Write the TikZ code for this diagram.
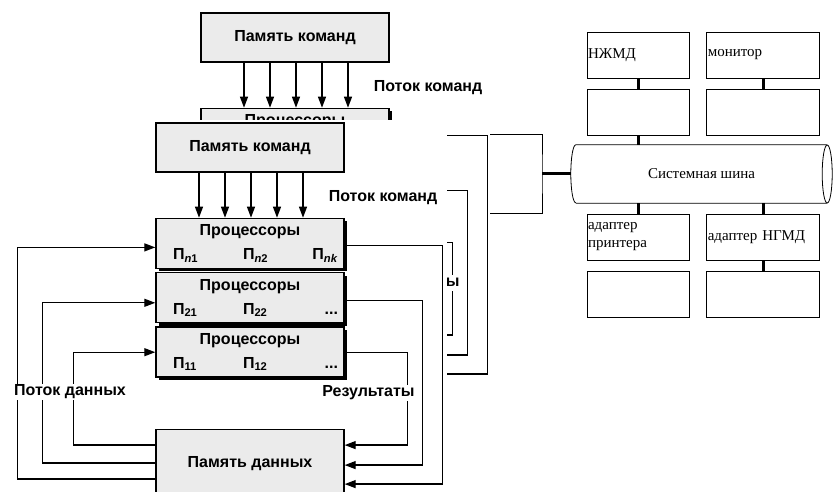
\documentclass[tikz,border=0pt]{standalone}
\usepackage{fontspec}
\setmainfont{Liberation Sans}
\newfontfamily\busfont{Liberation Serif}
\usetikzlibrary{arrows.meta,positioning,shadows}

\newcommand{\scanfnt}{\bfseries\fontsize{16}{19}\selectfont}
\newcommand{\devfnt}{\busfont\fontsize{15}{18}\selectfont}
% one row of processor names under the box title
\newcommand{\prow}[3]{\makebox[176pt][r]{\makebox[165pt][l]{%
  \makebox[70pt][l]{#1}\makebox[67pt][l]{#2}\hfill#3}}}
\newcommand{\Pn}[1]{П\textsubscript{#1}}
% texts that the front sheet hides on the back copy
\newcommand{\shtxt}[1]{#1}

\tikzset{
  mem/.style={rectangle,draw,line width=1.4pt,fill=black!8,
              minimum width=188pt,font=\scanfnt},
  proc/.style={mem,minimum height=50pt,align=center,
               general shadow={fill=black,shadow xshift=2.5pt,shadow yshift=-3pt}},
  flow/.style={-{Triangle[length=11pt,width=8pt]},line width=1.3pt},
  lbl/.style={font=\scanfnt,inner sep=1pt},
  gap/.style={lbl,fill=white},
  dev/.style={rectangle,draw,line width=0.8pt,text width=100pt,align=left,
              minimum height=46pt,inner sep=1pt,font=\devfnt},
  devw/.style={dev,text width=111pt},
  busbox/.style={rectangle,minimum width=251pt,minimum height=58pt,font=\devfnt},
  link/.style={line width=3pt},
  wire/.style={line width=0.8pt},
}

% the scanned sheet with the processor array, #1 = name prefix
\newcommand{\simdsheet}[1]{%
  \node[mem,minimum height=49pt] (#1cmd) at (250,344.5) {Память команд};
  \node[proc,below=45pt of #1cmd] (#1pn) {Процессоры\\[5pt]
     \shtxt{\prow{\Pn{\textit{n}1}}{\Pn{\textit{n}2}}{\Pn{\textit{nk}}}}};
  \node[proc,below=3pt of #1pn] (#1p2) {\shtxt{Процессоры}\\[5pt]
     \shtxt{\prow{\Pn{21}}{\Pn{22}}{...}}};
  \node[proc,below=3pt of #1p2] (#1p1) {\shtxt{Процессоры}\\[5pt]
     \shtxt{\prow{\Pn{11}}{\Pn{12}}{...}}};
  \node[mem,minimum height=67pt,below=51pt of #1p1] (#1dmem) {\shtxt{Память данных}};
  \foreach \dx in {-51,-25,1,27,53}
    \draw[flow] ([xshift=\dx pt]#1cmd.south) -- ([xshift=\dx pt]#1pn.north);
  \node[lbl] (#1cflow) at (383,294) {Поток команд};
  % data in (left) and results out (right)
  \draw[flow] ([yshift=18pt]#1dmem.west) -- ++(-82,0) |- (#1p1.west);
  \draw[flow] (#1dmem.west) -- ++(-113,0) |- ([yshift=-5pt]#1p2.west);
  \draw[flow] ([yshift=-16pt]#1dmem.west) -- ++(-138,0) |- ([yshift=-4pt]#1pn.west);
  \draw[flow] (#1p1.east) -- ++(63,0) |- ([yshift=18pt]#1dmem.east);
  \draw[flow] ([yshift=-3pt]#1p2.east) -- ++(78,0) |- ([yshift=-2pt]#1dmem.east);
  \draw[flow] ([yshift=-2pt]#1pn.east) -- ++(98,0) |- ([yshift=-21pt]#1dmem.east);
  \node[gap] (#1dflow) at (70,100) {\shtxt{Поток данных}};
  \node[gap] (#1res) at (368.5,99) {Результаты};
}

\begin{document}
\begin{tikzpicture}[x=1pt,y=1pt]
  \useasboundingbox (0,0) rectangle (835,492);
  % copy behind, only its top and right edge show
  \begin{scope}[shift={(45,110)}]
    \let\shtxt\phantom
    \simdsheet{b}
  \end{scope}
  \fill[white] (0,0) rectangle (447,372);
  \simdsheet{a}

  % system bus with devices
  \node[dev] (hdd) at (638,437) {НЖМД};
  \node[devw,right=17pt of hdd] (mon) {монитор};
  \node[dev,below=11pt of hdd] (hddc) {};
  \node[devw,below=11pt of mon] (monc) {};
  \node[busbox] (bus) at (701.5,318) {Системная шина};
  \node[dev] (prn) at (638,255) {адаптер\\принтера};
  \node[devw,right=17pt of prn] (fdd) {адаптер НГМД};
  \node[dev,below=11pt of prn] (prnc) {};
  \node[devw,below=11pt of fdd] (fddc) {};
  \draw[wire] (bus.north west) -- (bus.north east)
              (bus.south west) -- (bus.south east)
              (bus.north west) arc[start angle=90,end angle=270,x radius=5,y radius=29]
              (bus.east) ellipse[x radius=5,y radius=29];
  \draw[link] (hdd) -- (hddc);
  \draw[link] (mon) -- (monc);
  \draw[link] (hddc) -- (hddc |- bus.north);
  \draw[link] (prn |- bus.south) -- (prn);
  \draw[link] (fdd |- bus.south) -- (fdd);
  \draw[link] (fdd) -- (fddc);

  \coordinate (btop) at (490,358);
  \coordinate (bbot) at (490,279);
  \coordinate (bmid) at (542,318);
  \draw[wire] (btop) -| (bmid) |- (bbot);
  \draw[link] (bmid) -- ([xshift=-5pt]bus.west);
\end{tikzpicture}
\end{document}
